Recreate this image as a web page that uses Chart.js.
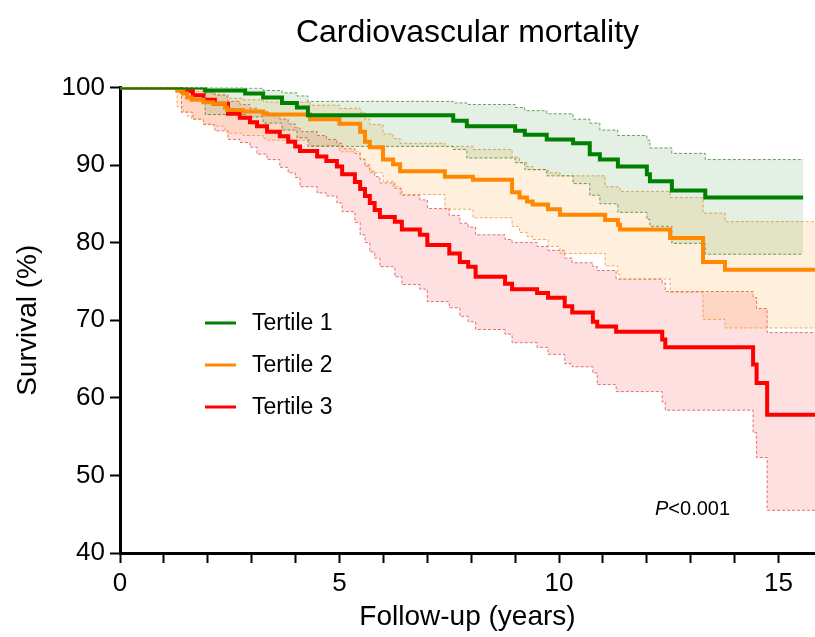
<!DOCTYPE html>
<html>
<head>
<meta charset="utf-8">
<script src="https://cdn.jsdelivr.net/npm/chart.js@4.4.1/dist/chart.umd.min.js"></script>
<style>
  body { margin: 0; background: #fff; }
  #wrap { width: 815px; height: 637px; }
</style>
</head>
<body>
<div id="wrap"><canvas id="kmChart"></canvas></div>
<script>
// === DATA ===
// Tertile 1
const t1Times = [1.94, 2.85, 3.26, 3.69, 4.03, 4.28, 7.59, 7.9, 9.0, 9.22, 9.72, 10.32, 10.7, 10.93, 11.34, 12.0, 12.07, 12.57, 13.33];
const t1Surv  = [99.6, 99.2, 98.7, 98.0, 97.4, 96.4, 95.7, 95.0, 94.4, 93.9, 93.3, 92.8, 91.4, 90.7, 89.8, 88.8, 87.9, 86.7, 85.8];
const t1Lower = [96.5, 96.2, 95.4, 94.5, 93.5, 92.4, 92.0, 90.9, 90.3, 89.4, 88.6, 87.6, 86.1, 85.0, 83.9, 83.0, 82.1, 79.9, 78.5];
const t1Upper = [100, 99.9, 99.6, 99.3, 98.9, 98.2, 98.0, 97.8, 97.4, 97.0, 96.6, 95.9, 95.4, 94.5, 93.8, 93.2, 92.2, 91.5, 90.7];
const t1End = 15.56;

// Tertile 2
const t2Times = [1.3, 1.44, 1.53, 1.63, 1.9, 2.12, 2.39, 2.44, 2.8, 3.26, 3.35, 4.33, 5.0, 5.47, 5.58, 5.69, 5.99, 6.22, 6.38, 7.4, 8.04, 8.93, 9.1, 9.27, 9.4, 9.75, 10.02, 11.05, 11.34, 11.39, 12.53, 13.28, 13.78];
const t2Surv  = [99.6, 99.2, 98.7, 98.4, 98.1, 97.9, 97.4, 97.1, 96.9, 96.6, 96.5, 95.9, 95.3, 94.3, 93.0, 92.3, 90.7, 90.1, 89.2, 88.5, 88.1, 86.5, 85.8, 85.3, 84.9, 84.3, 83.6, 82.9, 82.3, 81.7, 80.6, 77.5, 76.5];
const t2Lower = [97.5, 96.9, 96.3, 95.9, 95.3, 95.0, 94.5, 94.1, 93.8, 93.4, 93.2, 92.5, 91.7, 90.8, 89.8, 89.0, 87.9, 87.2, 86.2, 84.3, 83.2, 82.1, 81.3, 80.8, 80.4, 79.5, 78.6, 77.0, 75.9, 75.3, 73.6, 70.1, 69.0];
const t2Upper = [100, 99.9, 99.7, 99.5, 99.3, 99.1, 98.8, 98.6, 98.4, 98.2, 98.1, 97.7, 97.3, 96.8, 95.9, 95.2, 94.0, 93.4, 92.8, 92.4, 92.0, 91.0, 90.3, 89.8, 89.4, 89.0, 88.6, 87.2, 87.0, 86.6, 85.8, 83.8, 82.7];
const t2End = 15.83;

// Tertile 3
const t3Times = [1.4, 1.66, 1.9, 2.16, 2.46, 2.73, 2.96, 3.12, 3.35, 3.64, 3.83, 3.99, 4.1, 4.49, 4.7, 4.94, 5.06, 5.35, 5.47, 5.58, 5.69, 5.8, 5.92, 6.26, 6.42, 6.83, 7.0, 7.5, 7.74, 7.93, 8.1, 8.77, 8.93, 9.5, 9.75, 10.13, 10.3, 10.77, 10.87, 11.3, 12.35, 12.42, 14.42, 14.5, 14.74];
const t3Surv  = [99.5, 99.0, 98.4, 97.9, 96.6, 96.1, 95.5, 95.0, 94.3, 93.7, 93.0, 92.4, 91.8, 91.1, 90.5, 89.8, 88.8, 87.8, 86.9, 86.0, 85.1, 84.2, 83.3, 82.7, 81.7, 81.0, 79.7, 78.6, 77.5, 76.9, 75.6, 74.7, 74.0, 73.5, 72.9, 71.8, 71.0, 69.8, 69.2, 68.5, 67.5, 66.5, 64.3, 61.9, 57.8];
const t3Lower = [96.8, 95.9, 95.2, 94.4, 93.3, 92.9, 92.3, 91.4, 90.7, 89.7, 89.0, 88.4, 87.2, 86.4, 86.0, 85.1, 84.0, 82.6, 81.0, 80.0, 78.8, 78.0, 76.9, 75.6, 74.6, 74.0, 72.4, 71.6, 70.5, 69.8, 68.8, 68.2, 67.1, 66.5, 65.6, 64.4, 64.0, 63.2, 61.7, 60.8, 59.5, 58.4, 55.5, 52.3, 45.5];
const t3Upper = [100, 99.8, 99.4, 99.0, 98.2, 97.8, 97.3, 96.9, 96.4, 95.9, 95.3, 94.8, 94.3, 93.8, 93.3, 92.8, 92.1, 91.5, 90.7, 90.0, 89.2, 88.5, 87.7, 87.0, 86.1, 85.5, 84.4, 83.5, 82.5, 82.0, 81.0, 80.4, 80.0, 79.5, 79.0, 78.0, 77.4, 76.9, 76.4, 75.3, 74.8, 73.7, 72.9, 71.5, 68.4];
const t3End = 15.83;

const xTickLabels = [0, 5, 10, 15];

// === HELPERS ===
const FONT = '"Liberation Sans", Arial, Helvetica, sans-serif';
const GREEN = 'rgb(0,128,0)';
const ORANGE = 'rgb(255,136,0)';
const RED = 'rgb(255,0,0)';

// KM curve: starts at 100 at t=0, step at each event, held to end of follow-up
function kmPoints(times, vals, end) {
  const pts = [{ x: 0, y: 100 }];
  times.forEach((t, i) => pts.push({ x: t, y: vals[i] }));
  pts.push({ x: end, y: vals[vals.length - 1] });
  return pts;
}

function survLine(label, color, times, vals, end) {
  return {
    label, data: kmPoints(times, vals, end),
    borderColor: color, backgroundColor: color, borderWidth: 4,
    stepped: true, pointRadius: 0, fill: false
  };
}

function ciLine(color, fillColor, times, vals, end, isUpper) {
  return {
    label: '', data: kmPoints(times, vals, end),
    borderColor: color, borderWidth: 1, borderDash: [3, 2],
    stepped: true, pointRadius: 0,
    fill: isUpper ? '+1' : false,
    backgroundColor: fillColor
  };
}

// legend + p-value drawn inside the plot
const insideText = {
  id: 'insideText',
  afterDatasetsDraw(chart) {
    const ctx = chart.ctx;
    ctx.save();
    const items = [['Tertile 1', GREEN], ['Tertile 2', ORANGE], ['Tertile 3', RED]];
    items.forEach(([txt, col], i) => {
      const y = 323 + i * 42;
      ctx.strokeStyle = col;
      ctx.lineWidth = 3;
      ctx.beginPath();
      ctx.moveTo(205, y);
      ctx.lineTo(236, y);
      ctx.stroke();
      ctx.fillStyle = '#000';
      ctx.font = '23px ' + FONT;
      ctx.textBaseline = 'middle';
      ctx.fillText(txt, 252, y + 1);
    });
    ctx.font = 'italic 20px ' + FONT;
    ctx.textBaseline = 'middle';
    ctx.fillText('P', 655, 509);
    const w = ctx.measureText('P').width;
    ctx.font = '20px ' + FONT;
    ctx.fillText('<0.001', 655 + w, 509);
    ctx.restore();
  }
};

const axisGrid = { drawOnChartArea: false, drawTicks: true, tickLength: 10, tickWidth: 2, tickColor: '#000' };

new Chart(document.getElementById('kmChart').getContext('2d'), {
  type: 'line',
  data: {
    datasets: [
      survLine('Tertile 1', GREEN, t1Times, t1Surv, t1End),
      survLine('Tertile 2', ORANGE, t2Times, t2Surv, t2End),
      survLine('Tertile 3', RED, t3Times, t3Surv, t3End),
      ciLine('rgba(60,130,40,0.75)', 'rgba(0,120,0,0.11)', t1Times, t1Upper, t1End, true),
      ciLine('rgba(60,130,40,0.75)', 'rgba(0,120,0,0.11)', t1Times, t1Lower, t1End, false),
      ciLine('rgba(240,150,60,0.8)', 'rgba(255,140,0,0.13)', t2Times, t2Upper, t2End, true),
      ciLine('rgba(240,150,60,0.8)', 'rgba(255,140,0,0.13)', t2Times, t2Lower, t2End, false),
      ciLine('rgba(220,70,70,0.75)', 'rgba(255,0,0,0.12)', t3Times, t3Upper, t3End, true),
      ciLine('rgba(220,70,70,0.75)', 'rgba(255,0,0,0.12)', t3Times, t3Lower, t3End, false)
    ]
  },
  options: {
    responsive: true,
    maintainAspectRatio: false,
    animation: false,
    layout: { padding: 0 },
    plugins: {
      legend: { display: false },
      tooltip: { enabled: false },
      title: {
        display: true, fullSize: false, text: 'Cardiovascular mortality', color: '#000',
        font: { family: FONT, size: 32, weight: 'normal' },
        padding: { top: 14, bottom: 35 }
      }
    },
    scales: {
      x: {
        type: 'linear', min: 0, max: 15.83,
        ticks: {
          stepSize: 1, includeBounds: false, autoSkip: false, maxRotation: 0,
          color: '#000', padding: 5, font: { family: FONT, size: 26 },
          callback: v => xTickLabels.includes(v) ? String(v) : ''
        },
        grid: axisGrid,
        border: { color: '#000', width: 3 },
        title: { display: true, text: 'Follow-up (years)', color: '#000', font: { family: FONT, size: 28 }, padding: { top: 0, bottom: 3 } },
        afterFit: s => { s.height = 84; }
      },
      y: {
        min: 40, max: 100,
        ticks: { stepSize: 10, color: '#000', padding: 5, font: { family: FONT, size: 26 } },
        grid: axisGrid,
        border: { color: '#000', width: 3 },
        title: { display: true, text: 'Survival (%)', color: '#000', font: { family: FONT, size: 28 }, padding: { top: 11, bottom: 0 } },
        afterFit: s => { s.width = 120; }
      }
    }
  },
  plugins: [insideText]
});
</script>
</body>
</html>
